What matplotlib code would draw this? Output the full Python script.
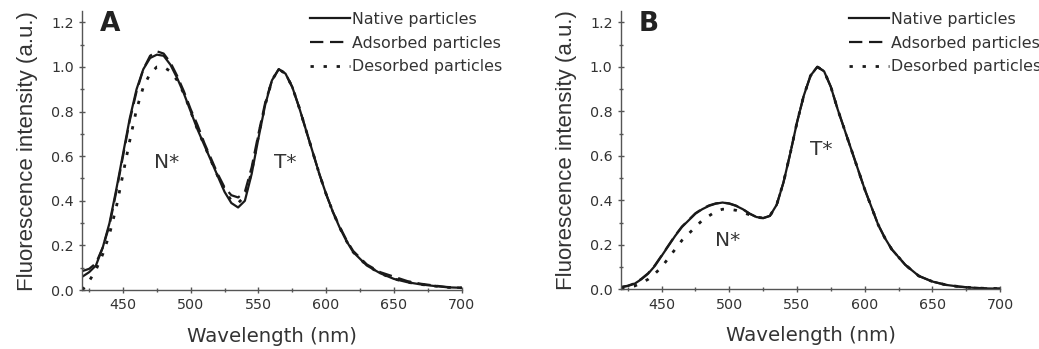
import matplotlib
matplotlib.use("Agg")
import matplotlib.pyplot as plt
from matplotlib.ticker import MultipleLocator

plt.rcParams['font.family'] = ['DejaVu Sans']

# ---------------- data ----------------
wl = [420, 425, 430, 435, 440, 445, 450, 455, 460, 465, 470, 475, 480, 485, 490,
      495, 500, 505, 510, 515, 520, 525, 530, 535, 540, 545, 550, 555, 560, 565,
      570, 575, 580, 585, 590, 595, 600, 605, 610, 615, 620, 630, 640, 650, 660,
      670, 680, 690, 700]

a_native = [0.06, 0.08, 0.11, 0.19, 0.30, 0.45, 0.61, 0.77, 0.90, 0.99, 1.04, 1.055, 1.05, 1.01, 0.95,
            0.88, 0.80, 0.72, 0.65, 0.58, 0.51, 0.44, 0.39, 0.37, 0.40, 0.52, 0.68, 0.83, 0.94, 0.99,
            0.97, 0.91, 0.82, 0.72, 0.62, 0.52, 0.43, 0.35, 0.28, 0.22, 0.17, 0.11, 0.075, 0.05, 0.035,
            0.025, 0.018, 0.012, 0.01]
a_adsorbed = [0.085, 0.095, 0.12, 0.19, 0.29, 0.44, 0.60, 0.76, 0.89, 0.99, 1.05, 1.07, 1.06, 1.02, 0.96,
              0.89, 0.81, 0.74, 0.66, 0.59, 0.52, 0.46, 0.425, 0.415, 0.44, 0.55, 0.70, 0.84, 0.94, 0.99,
              0.97, 0.91, 0.82, 0.72, 0.62, 0.52, 0.43, 0.35, 0.285, 0.225, 0.175, 0.115, 0.08, 0.06, 0.04,
              0.028, 0.02, 0.013, 0.01]
a_desorbed = [0.0, 0.04, 0.09, 0.16, 0.25, 0.37, 0.52, 0.67, 0.81, 0.91, 0.97, 1.0, 1.0, 0.98, 0.94,
              0.88, 0.80, 0.72, 0.65, 0.58, 0.51, 0.45, 0.40, 0.39, 0.42, 0.53, 0.69, 0.83, 0.94, 0.99,
              0.97, 0.91, 0.82, 0.72, 0.62, 0.52, 0.43, 0.35, 0.28, 0.22, 0.17, 0.11, 0.075, 0.05, 0.035,
              0.025, 0.018, 0.012, 0.01]

b_native = [0.01, 0.015, 0.025, 0.045, 0.07, 0.105, 0.15, 0.195, 0.24, 0.28, 0.31, 0.34, 0.36, 0.375, 0.385,
            0.39, 0.385, 0.375, 0.36, 0.34, 0.325, 0.32, 0.33, 0.38, 0.48, 0.61, 0.75, 0.87, 0.96, 1.0,
            0.98, 0.91, 0.81, 0.72, 0.63, 0.54, 0.45, 0.37, 0.29, 0.23, 0.18, 0.11, 0.06, 0.035, 0.02,
            0.012, 0.007, 0.004, 0.003]
b_adsorbed = [0.01, 0.016, 0.027, 0.047, 0.072, 0.108, 0.152, 0.197, 0.242, 0.282, 0.312, 0.342, 0.362, 0.377, 0.386,
              0.39, 0.386, 0.376, 0.36, 0.34, 0.325, 0.32, 0.33, 0.38, 0.48, 0.61, 0.75, 0.87, 0.96, 1.0,
              0.98, 0.91, 0.81, 0.72, 0.63, 0.54, 0.45, 0.37, 0.29, 0.23, 0.18, 0.11, 0.06, 0.035, 0.02,
              0.012, 0.007, 0.004, 0.003]
b_desorbed = [0.005, 0.01, 0.015, 0.028, 0.045, 0.07, 0.10, 0.14, 0.18, 0.22, 0.25, 0.28, 0.31, 0.33, 0.35,
              0.36, 0.36, 0.355, 0.345, 0.335, 0.325, 0.32, 0.33, 0.38, 0.48, 0.61, 0.75, 0.87, 0.96, 1.0,
              0.98, 0.91, 0.81, 0.72, 0.63, 0.54, 0.45, 0.37, 0.29, 0.23, 0.18, 0.11, 0.06, 0.035, 0.02,
              0.012, 0.007, 0.004, 0.003]

series_labels = ["Native particles", "Adsorbed particles", "Desorbed particles"]
panel_letters = ["A", "B"]
x_ticks = [450, 500, 550, 600, 650, 700]
y_ticks = [0.0, 0.2, 0.4, 0.6, 0.8, 1.0, 1.2]
annotations = {"A": [("N*", 482, 0.57), ("T*", 569.5, 0.57)],
               "B": [("N*", 498.5, 0.22), ("T*", 568, 0.63)]}

# ---------------- figure ----------------
fig = plt.figure(figsize=(10.39, 3.49), dpi=100)
txt = '#333333'
spine_c = '#555555'
line_c = '#1a1a1a'

axes_pos = [[0.0793, 0.169, 0.3649, 0.799], [0.5977, 0.171, 0.3648, 0.797]]
panels = [(a_native, a_adsorbed, a_desorbed), (b_native, b_adsorbed, b_desorbed)]
styles = [dict(linestyle='-', linewidth=1.6),
          dict(linestyle=(0, (6, 3)), linewidth=1.6),
          dict(linestyle=(0, (1.2, 3.5)), linewidth=2.0)]

for i, (pos, data, letter) in enumerate(zip(axes_pos, panels, panel_letters)):
    ax = fig.add_axes(pos)
    handles = []
    for ys, st, lab in zip(data, styles, series_labels):
        h, = ax.plot(wl, ys, color=line_c, label=lab, **st)
        handles.append(h)
    ax.set_xlim(420, 700)
    ax.set_ylim(0, 1.25)
    ax.set_xticks(x_ticks)
    ax.set_yticks(y_ticks)
    ax.set_yticklabels([f"{v:.1f}" for v in y_ticks])
    ax.xaxis.set_minor_locator(MultipleLocator(25))
    ax.yaxis.set_minor_locator(MultipleLocator(0.1))
    for s in ['top', 'right']:
        ax.spines[s].set_visible(False)
    for s in ['left', 'bottom']:
        ax.spines[s].set_color(spine_c)
        ax.spines[s].set_linewidth(1.0)
    ax.tick_params(axis='both', which='major', labelsize=10.3, colors=spine_c,
                   labelcolor=txt, length=4, width=1.0, direction='inout', pad=4)
    ax.tick_params(axis='both', which='minor', colors=spine_c, length=3, width=1.0,
                   direction='inout')
    ax.set_xlabel("Wavelength (nm)", fontsize=14.2, color=txt, labelpad=10.5)
    ax.set_ylabel("Fluorescence intensity (a.u.)", fontsize=16, color=txt, labelpad=9.5,
                  family=['Liberation Sans', 'DejaVu Sans'])
    ax.text(0.047, 1.0, letter, transform=ax.transAxes, fontsize=19, fontweight='bold',
            color='#222222', va='top', ha='left')
    for t, x, y in annotations[letter]:
        ax.text(x, y, t, fontsize=14.5, color=txt, ha='center', va='center')
    leg = ax.legend(handles=handles, loc='upper left', bbox_to_anchor=(0.6016, 0.997),
                    frameon=False, fontsize=11.4, handlelength=2.5, handletextpad=0.12,
                    labelspacing=0.55, borderaxespad=0, borderpad=0)
    for t in leg.get_texts():
        t.set_color(txt)

fig.savefig("out.png", dpi=100)
